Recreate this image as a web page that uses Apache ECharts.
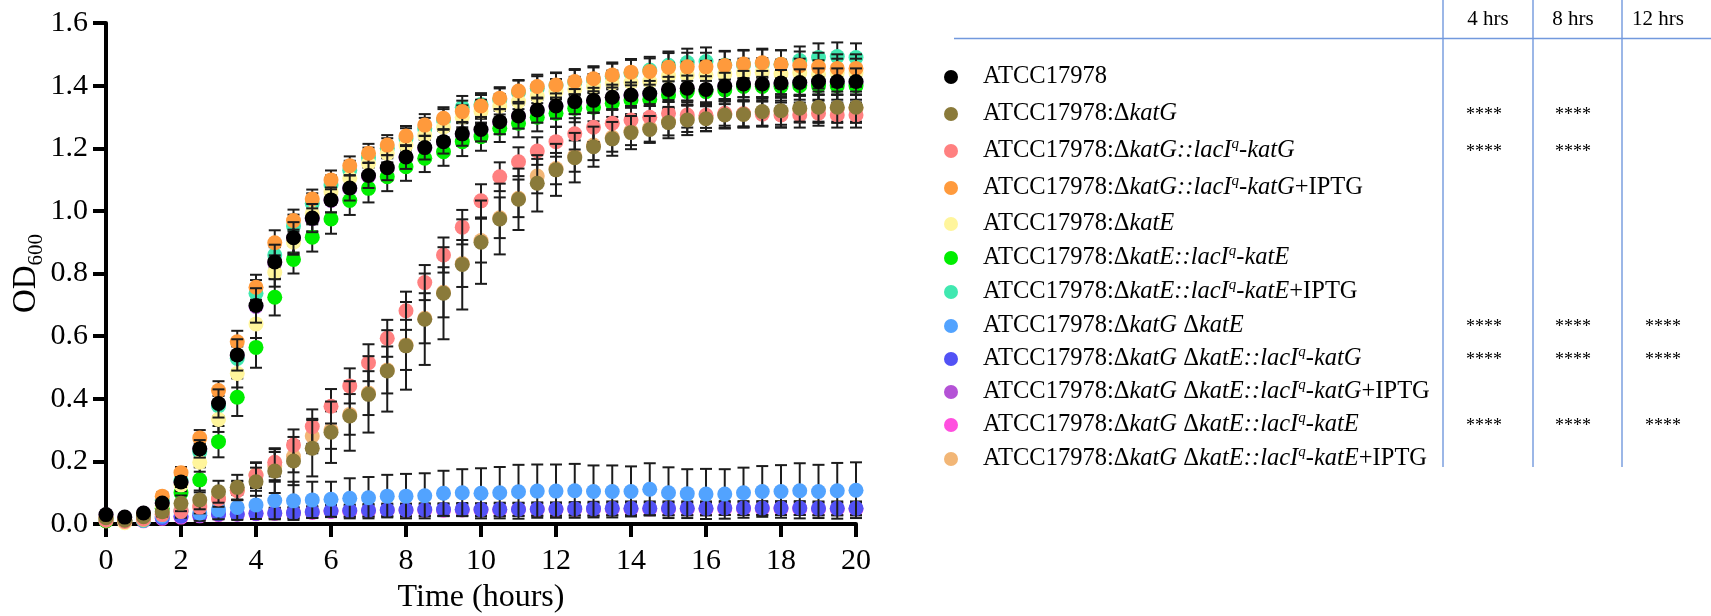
<!DOCTYPE html>
<html>
<head>
<meta charset="utf-8">
<script src="https://cdn.jsdelivr.net/npm/echarts@6/dist/echarts.min.js"></script>
<style>
  html, body { margin: 0; padding: 0; background: #fff; }
  #chart { width: 1711px; height: 616px; }
</style>
</head>
<body>
<div id="chart"></div>
<script>
// Sampling times (hours)
const hours = [0,0.5,1,1.5,2,2.5,3,3.5,4,4.5,5,5.5,6,6.5,7,7.5,8,8.5,9,9.5,10,10.5,11,11.5,12,12.5,13,13.5,14,14.5,15,15.5,16,16.5,17,17.5,18,18.5,19,19.5,20];

// Strain names (legend order) and their formatted labels
const strains = [
  'ATCC17978',
  'ATCC17978:ΔkatG',
  'ATCC17978:ΔkatG::lacIq-katG',
  'ATCC17978:ΔkatG::lacIq-katG+IPTG',
  'ATCC17978:ΔkatE',
  'ATCC17978:ΔkatE::lacIq-katE',
  'ATCC17978:ΔkatE::lacIq-katE+IPTG',
  'ATCC17978:ΔkatG ΔkatE',
  'ATCC17978:ΔkatG ΔkatE::lacIq-katG',
  'ATCC17978:ΔkatG ΔkatE::lacIq-katG+IPTG',
  'ATCC17978:ΔkatG ΔkatE::lacIq-katE',
  'ATCC17978:ΔkatG ΔkatE::lacIq-katE+IPTG'
];
const strainLabels = [
  '{n|ATCC17978}',
  '{n|ATCC17978:Δ}{i|katG}',
  '{n|ATCC17978:Δ}{i|katG::lacI}{q|q}{i|-katG}',
  '{n|ATCC17978:Δ}{i|katG::lacI}{q|q}{i|-katG}{n|+IPTG}',
  '{n|ATCC17978:Δ}{i|katE}',
  '{n|ATCC17978:Δ}{i|katE::lacI}{q|q}{i|-katE}',
  '{n|ATCC17978:Δ}{i|katE::lacI}{q|q}{i|-katE}{n|+IPTG}',
  '{n|ATCC17978:Δ}{i|katG}{n| Δ}{i|katE}',
  '{n|ATCC17978:Δ}{i|katG}{n| Δ}{i|katE::lacI}{q|q}{i|-katG}',
  '{n|ATCC17978:Δ}{i|katG}{n| Δ}{i|katE::lacI}{q|q}{i|-katG}{n|+IPTG}',
  '{n|ATCC17978:Δ}{i|katG}{n| Δ}{i|katE::lacI}{q|q}{i|-katE}',
  '{n|ATCC17978:Δ}{i|katG}{n| Δ}{i|katE::lacI}{q|q}{i|-katE}{n|+IPTG}'
];
const strainColors = ['#000000','#8a7a3a','#ff8080','#ff9a3c','#fff59c','#00ee00','#40e8b0','#52a3ff','#5252f5','#b452d6','#ff4fdf','#f2b676'];

// Mean OD600 per strain
const wt            = [0.030,0.022,0.035,0.067,0.134,0.240,0.385,0.540,0.698,0.837,0.914,0.977,1.035,1.073,1.113,1.138,1.172,1.202,1.221,1.246,1.260,1.285,1.303,1.322,1.335,1.349,1.353,1.363,1.370,1.375,1.388,1.392,1.388,1.399,1.405,1.405,1.408,1.410,1.413,1.413,1.413];
const katG          = [0.020,0.012,0.023,0.039,0.066,0.077,0.103,0.117,0.135,0.169,0.201,0.242,0.293,0.345,0.414,0.489,0.569,0.654,0.737,0.829,0.900,0.974,1.037,1.088,1.131,1.170,1.205,1.230,1.250,1.260,1.282,1.290,1.294,1.306,1.308,1.317,1.320,1.328,1.331,1.331,1.331];
const katGComp      = [0.012,0.008,0.015,0.030,0.040,0.054,0.080,0.106,0.155,0.197,0.252,0.311,0.376,0.441,0.515,0.593,0.681,0.771,0.859,0.948,1.032,1.109,1.157,1.191,1.221,1.246,1.267,1.280,1.290,1.299,1.312,1.306,1.305,1.312,1.310,1.309,1.306,1.306,1.312,1.306,1.306];
const katGCompIptg  = [0.020,0.015,0.030,0.089,0.164,0.275,0.426,0.582,0.756,0.898,0.969,1.038,1.099,1.144,1.184,1.210,1.239,1.274,1.296,1.317,1.335,1.360,1.383,1.397,1.402,1.413,1.422,1.434,1.443,1.445,1.459,1.460,1.460,1.464,1.469,1.473,1.468,1.464,1.460,1.455,1.455];
const katE          = [0.013,0.004,0.015,0.060,0.125,0.197,0.334,0.481,0.639,0.803,0.900,0.992,1.061,1.104,1.152,1.184,1.210,1.242,1.267,1.299,1.317,1.335,1.349,1.367,1.381,1.388,1.397,1.408,1.410,1.413,1.431,1.434,1.434,1.437,1.441,1.443,1.438,1.441,1.436,1.441,1.441];
const katEComp      = [0.010,0.008,0.015,0.050,0.100,0.141,0.263,0.405,0.564,0.724,0.845,0.916,0.974,1.033,1.072,1.109,1.141,1.168,1.189,1.221,1.237,1.264,1.280,1.299,1.312,1.328,1.331,1.344,1.354,1.356,1.370,1.381,1.381,1.386,1.397,1.397,1.397,1.400,1.400,1.400,1.400];
const katECompIptg  = [0.015,0.010,0.012,0.075,0.140,0.231,0.377,0.529,0.737,0.859,0.952,1.024,1.083,1.130,1.170,1.200,1.230,1.262,1.290,1.331,1.340,1.355,1.378,1.392,1.400,1.410,1.418,1.430,1.440,1.450,1.465,1.474,1.477,1.466,1.467,1.470,1.468,1.480,1.490,1.493,1.490];
const dbl           = [0.015,0.010,0.012,0.025,0.040,0.035,0.045,0.053,0.061,0.075,0.074,0.077,0.079,0.082,0.084,0.089,0.089,0.090,0.098,0.100,0.098,0.100,0.103,0.105,0.105,0.106,0.104,0.104,0.104,0.111,0.100,0.097,0.096,0.096,0.100,0.104,0.104,0.106,0.104,0.106,0.108];
const dblKatG       = [0.015,0.010,0.012,0.020,0.025,0.028,0.032,0.032,0.034,0.035,0.036,0.039,0.042,0.043,0.044,0.045,0.045,0.046,0.046,0.047,0.046,0.047,0.047,0.048,0.048,0.049,0.049,0.050,0.050,0.050,0.050,0.050,0.050,0.051,0.051,0.051,0.051,0.051,0.050,0.050,0.050];
const dblKatGIptg   = [0.029,0.021,0.034,0.066,0.132,0.238,0.382,0.537,0.695,0.834,0.912,0.975,1.033,1.071,1.111,1.136,1.170,1.200,1.219,1.244,1.258,1.283,1.301,1.320,1.333,1.347,1.351,1.361,1.368,1.373,1.386,1.390,1.386,1.397,1.403,1.403,1.406,1.408,1.411,1.411,1.411];
const dblKatE       = [0.012,0.008,0.010,0.018,0.022,0.026,0.030,0.031,0.033,0.034,0.035,0.037,0.040,0.041,0.042,0.043,0.043,0.044,0.044,0.045,0.045,0.045,0.046,0.046,0.046,0.047,0.047,0.048,0.048,0.048,0.048,0.048,0.048,0.049,0.049,0.049,0.049,0.049,0.048,0.048,0.048];
const dblKatEIptg   = [0.010,0.008,0.012,0.030,0.045,0.058,0.085,0.108,0.157,0.185,0.215,0.281,0.300,0.350,0.418,0.492,0.572,0.657,0.740,0.832,0.905,0.978,1.040,1.111,1.135,1.175,1.210,1.235,1.255,1.265,1.285,1.295,1.298,1.308,1.310,1.315,1.318,1.325,1.328,1.328,1.328];

// Standard deviations per strain
const wtSd           = [0.004,0.004,0.006,0.010,0.016,0.028,0.045,0.050,0.055,0.055,0.050,0.045,0.040,0.040,0.040,0.040,0.038,0.038,0.038,0.038,0.038,0.040,0.040,0.040,0.040,0.040,0.040,0.040,0.040,0.040,0.040,0.040,0.042,0.042,0.042,0.042,0.042,0.042,0.042,0.042,0.042];
const katGSd         = [0.005,0.005,0.008,0.015,0.025,0.030,0.035,0.040,0.045,0.070,0.077,0.090,0.098,0.111,0.122,0.130,0.140,0.146,0.147,0.144,0.133,0.113,0.098,0.090,0.083,0.079,0.064,0.054,0.053,0.043,0.050,0.048,0.040,0.043,0.042,0.046,0.053,0.043,0.050,0.050,0.050];
const katGCompSd     = [0.004,0.004,0.006,0.010,0.015,0.020,0.025,0.030,0.040,0.045,0.050,0.055,0.055,0.056,0.059,0.059,0.061,0.056,0.056,0.055,0.053,0.046,0.046,0.044,0.048,0.050,0.047,0.045,0.045,0.042,0.042,0.040,0.040,0.040,0.040,0.040,0.040,0.040,0.040,0.040,0.040];
const katGCompIptgSd = [0.004,0.004,0.006,0.012,0.018,0.025,0.030,0.035,0.040,0.040,0.035,0.030,0.030,0.030,0.030,0.032,0.032,0.035,0.035,0.035,0.035,0.035,0.035,0.038,0.040,0.040,0.040,0.040,0.042,0.042,0.045,0.045,0.045,0.045,0.045,0.045,0.045,0.045,0.045,0.045,0.045];
const katESd         = [0.004,0.004,0.006,0.012,0.020,0.030,0.040,0.045,0.045,0.045,0.040,0.035,0.035,0.035,0.035,0.035,0.035,0.035,0.035,0.038,0.038,0.038,0.040,0.040,0.040,0.040,0.040,0.040,0.042,0.042,0.042,0.042,0.045,0.045,0.045,0.045,0.045,0.045,0.045,0.045,0.045];
const katECompSd     = [0.004,0.004,0.006,0.012,0.025,0.040,0.050,0.060,0.065,0.058,0.045,0.046,0.047,0.046,0.045,0.046,0.045,0.044,0.045,0.046,0.045,0.044,0.045,0.045,0.044,0.045,0.045,0.044,0.045,0.045,0.044,0.045,0.045,0.045,0.044,0.045,0.045,0.045,0.045,0.045,0.045];
const katECompIptgSd = [0.004,0.004,0.006,0.012,0.018,0.025,0.032,0.038,0.042,0.040,0.036,0.032,0.030,0.030,0.032,0.032,0.034,0.035,0.035,0.036,0.036,0.036,0.038,0.038,0.040,0.040,0.040,0.040,0.042,0.042,0.044,0.044,0.045,0.045,0.045,0.045,0.045,0.045,0.045,0.045,0.045];
const dblSd          = [0.004,0.004,0.005,0.010,0.020,0.025,0.030,0.040,0.045,0.060,0.061,0.058,0.056,0.064,0.066,0.068,0.071,0.072,0.072,0.075,0.080,0.082,0.086,0.085,0.085,0.086,0.083,0.083,0.080,0.083,0.081,0.078,0.080,0.079,0.080,0.081,0.084,0.088,0.085,0.089,0.089];
const dblKatGSd      = [0.004,0.004,0.005,0.008,0.010,0.012,0.014,0.015,0.016,0.017,0.018,0.018,0.019,0.019,0.020,0.020,0.020,0.020,0.020,0.020,0.020,0.021,0.021,0.021,0.021,0.021,0.022,0.022,0.022,0.022,0.022,0.022,0.022,0.022,0.022,0.022,0.022,0.022,0.022,0.022,0.022];
const dblKatGIptgSd  = [0.004,0.004,0.006,0.010,0.016,0.026,0.040,0.045,0.050,0.050,0.045,0.040,0.038,0.038,0.038,0.038,0.036,0.036,0.036,0.036,0.036,0.038,0.038,0.038,0.038,0.038,0.038,0.038,0.038,0.038,0.038,0.038,0.040,0.040,0.040,0.040,0.040,0.040,0.040,0.040,0.040];
const dblKatESd      = [0.004,0.004,0.005,0.008,0.010,0.012,0.013,0.014,0.015,0.016,0.016,0.017,0.018,0.018,0.018,0.019,0.019,0.019,0.019,0.019,0.020,0.020,0.020,0.020,0.020,0.020,0.020,0.020,0.020,0.020,0.020,0.020,0.020,0.020,0.020,0.020,0.020,0.020,0.020,0.020,0.020];
const dblKatEIptgSd  = [0.004,0.004,0.006,0.010,0.015,0.020,0.025,0.030,0.040,0.045,0.050,0.055,0.060,0.065,0.070,0.075,0.080,0.080,0.080,0.075,0.070,0.065,0.060,0.055,0.050,0.050,0.048,0.046,0.045,0.044,0.044,0.043,0.043,0.043,0.043,0.043,0.043,0.043,0.043,0.043,0.043];

const means = [wt, katG, katGComp, katGCompIptg, katE, katEComp, katECompIptg, dbl, dblKatG, dblKatGIptg, dblKatE, dblKatEIptg];
const sds   = [wtSd, katGSd, katGCompSd, katGCompIptgSd, katESd, katECompSd, katECompIptgSd, dblSd, dblKatGSd, dblKatGIptgSd, dblKatESd, dblKatEIptgSd];

// Significance versus the parent strain at each time point
const sigTimes = ['4 hrs', '8 hrs', '12 hrs'];
const significance = [
  ['', '', ''],
  ['****', '****', ''],
  ['****', '****', ''],
  ['', '', ''],
  ['', '', ''],
  ['', '', ''],
  ['', '', ''],
  ['****', '****', '****'],
  ['****', '****', '****'],
  ['', '', ''],
  ['****', '****', '****'],
  ['', '', '']
];

// Axis ticks
const xTicks = { min: 0, max: 20, interval: 2 };
const yTicks = { min: 0, max: 1.6, interval: 0.2 };

const SERIF = 'Liberation Serif, Times New Roman, serif';

// Layout
const legendLeft = 944, rowH = 28;
const legendRowY = [77, 114, 151, 188, 224, 258, 292, 326, 359, 392, 425, 459];
const tableColor = '#7299dd';
const tableTop = 38.5, tableBottom = 467, tableLeft = 954, tableRight = 1711;
const colLines = [1443, 1533, 1622];
const headerX = [1488, 1573, 1658];
const starX = [1484, 1573, 1663];

const chart = echarts.init(document.getElementById('chart'), null, { renderer: 'canvas' });

function errorBarItem(params, api) {
  const x = api.value(0), m = api.value(1), s = api.value(2);
  const top = api.coord([x, m + s]);
  const bot = api.coord([x, m - s]);
  const half = 6;
  const style = { stroke: '#1c1c1c', lineWidth: 2 };
  return {
    type: 'group',
    children: [
      { type: 'line', shape: { x1: top[0], y1: top[1], x2: bot[0], y2: bot[1] }, style },
      { type: 'line', shape: { x1: top[0] - half, y1: top[1], x2: top[0] + half, y2: top[1] }, style },
      { type: 'line', shape: { x1: bot[0] - half, y1: bot[1], x2: bot[0] + half, y2: bot[1] }, style }
    ]
  };
}

// Earlier strains are drawn above later ones
const series = [];
strains.forEach((name, i) => {
  const base = 200 - i * 10;
  series.push({
    name: name + ' (SD)',
    type: 'custom',
    renderItem: errorBarItem,
    data: hours.map((t, k) => [t, means[i][k], sds[i][k]]),
    encode: { x: 0, y: 1 },
    z: base,
    silent: true
  });
  series.push({
    name: name,
    type: 'scatter',
    data: hours.map((t, k) => [t, means[i][k]]),
    symbol: 'circle',
    symbolSize: 15,
    itemStyle: { color: strainColors[i], opacity: 1 },
    emphasis: { disabled: true },
    z: base + 5
  });
});

const legendText = {
  fontFamily: SERIF, fontSize: 24.5, color: '#000', lineHeight: rowH,
  rich: {
    n: { fontFamily: SERIF, fontSize: 24.5, color: '#000', lineHeight: rowH },
    i: { fontFamily: SERIF, fontSize: 24.5, fontStyle: 'italic', color: '#000', lineHeight: rowH },
    q: { fontFamily: SERIF, fontSize: 15, fontStyle: 'italic', color: '#000', lineHeight: 16, verticalAlign: 'top' }
  }
};

// One legend row per strain
const legends = strains.map((name, i) => ({
  data: [name],
  orient: 'vertical',
  left: legendLeft,
  top: legendRowY[i] - rowH / 2,
  padding: 0,
  itemWidth: 54,
  itemHeight: 14,
  icon: 'circle',
  selectedMode: false,
  formatter: n => strainLabels[strains.indexOf(n)],
  textStyle: legendText
}));

// Table of significance marks to the right of the legend
const graphics = [];
graphics.push({
  type: 'line', silent: true,
  shape: { x1: tableLeft, y1: tableTop, x2: tableRight, y2: tableTop },
  style: { stroke: tableColor, lineWidth: 1.4 }
});
colLines.forEach(x => graphics.push({
  type: 'line', silent: true,
  shape: { x1: x, y1: 0, x2: x, y2: tableBottom },
  style: { stroke: tableColor, lineWidth: 1.4 }
}));
sigTimes.forEach((label, j) => graphics.push({
  type: 'text', silent: true,
  x: headerX[j], y: 19,
  style: { text: label, font: '21px ' + SERIF, fill: '#000', textAlign: 'center', textVerticalAlign: 'middle' }
}));
significance.forEach((row, i) => {
  const cy = legendRowY[i] + 1;
  row.forEach((mark, j) => {
    if (!mark) return;
    graphics.push({
      type: 'text', silent: true,
      x: starX[j], y: cy,
      style: { text: mark, font: '18px ' + SERIF, fill: '#000', textAlign: 'center', textVerticalAlign: 'middle' }
    });
  });
});

const option = {
  animation: false,
  backgroundColor: '#fff',
  grid: { left: 106, top: 23, width: 750, height: 501, containLabel: false, outerBoundsMode: 'none' },
  xAxis: {
    type: 'value',
    min: xTicks.min, max: xTicks.max, interval: xTicks.interval,
    name: 'Time (hours)',
    nameLocation: 'middle',
    nameGap: 58,
    nameTextStyle: { fontFamily: SERIF, fontSize: 32, color: '#000' },
    axisLine: { show: true, lineStyle: { color: '#000', width: 4 } },
    axisTick: { show: true, length: 13, lineStyle: { color: '#000', width: 4 } },
    axisLabel: { fontFamily: SERIF, fontSize: 30, color: '#000', margin: 22 },
    splitLine: { show: false }
  },
  yAxis: {
    type: 'value',
    min: yTicks.min, max: yTicks.max, interval: yTicks.interval,
    name: 'OD{sub|600}',
    nameLocation: 'middle',
    nameRotate: 90,
    nameGap: 55,
    nameTextStyle: {
      fontFamily: SERIF, fontSize: 33, color: '#000', lineHeight: 40,
      rich: { sub: { fontFamily: SERIF, fontSize: 21, color: '#000', lineHeight: 22, verticalAlign: 'bottom' } }
    },
    axisLine: { show: true, lineStyle: { color: '#000', width: 4 } },
    axisTick: { show: true, length: 13, lineStyle: { color: '#000', width: 4 } },
    axisLabel: {
      fontFamily: SERIF, fontSize: 30, color: '#000', margin: 18,
      formatter: v => v.toFixed(1)
    },
    splitLine: { show: false }
  },
  legend: legends,
  graphic: graphics,
  series: series
};

chart.setOption(option);
</script>
</body>
</html>
